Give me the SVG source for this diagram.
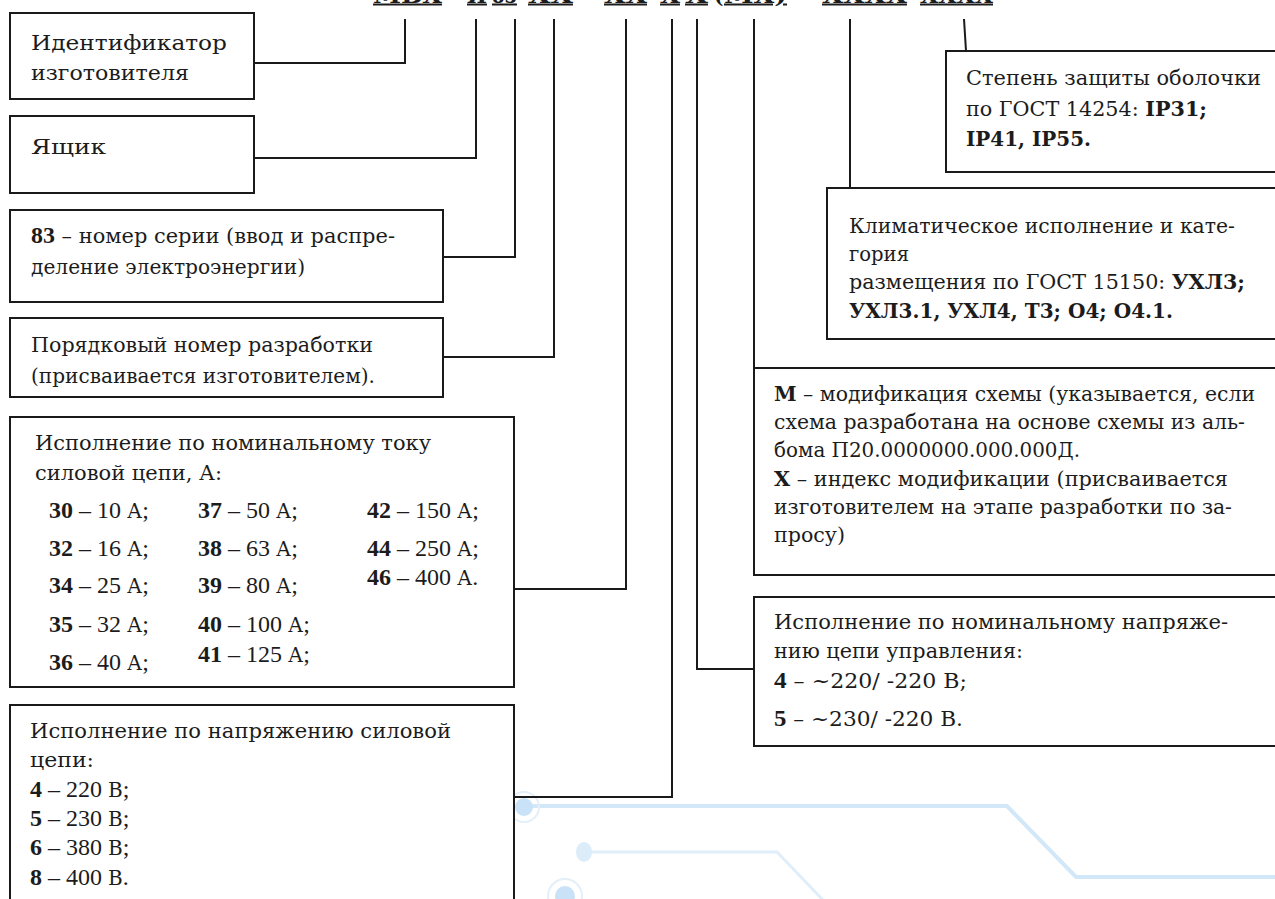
<svg xmlns="http://www.w3.org/2000/svg" width="1275" height="899" viewBox="0 0 1275 899">
<style>
.box{fill:#fff;stroke:#1a1a1a;stroke-width:2}
.t{font-family:"DejaVu Serif",serif;font-size:21px;fill:#1c1c1c}
.n{font-family:"Liberation Serif",serif;font-size:24px;fill:#1c1c1c}
.c{font-family:"DejaVu Serif",serif;font-size:20px}
.b{font-weight:bold}
.nb{font-family:"Liberation Serif",serif;font-weight:bold;font-size:24px}
.hd{font-family:"DejaVu Serif",serif;font-size:20px;font-weight:bold;fill:#1c1c1c}
.u{text-decoration:underline}
.conn path{fill:none;stroke:#1a1a1a;stroke-width:2}
.bg path{fill:none;stroke-linecap:round}
</style>
<rect width="1275" height="899" fill="#fff"/>
<g class="bg" id="background">
<path d="M530 806 H1007 L1076 877 H1280" stroke="#d2e7f8" stroke-width="4"/>
<path d="M588 852 H777 L822 899" stroke="#e0eefa" stroke-width="3"/>
<circle cx="524" cy="807" r="9" fill="#c9e2f7"/>
<circle cx="524" cy="807" r="15" fill="none" stroke="#e3eff9" stroke-width="2"/>
<ellipse cx="584" cy="852" rx="8" ry="10" fill="#dcecf9"/>
<circle cx="565" cy="896" r="10" fill="#c9e2f7"/>
<circle cx="565" cy="896" r="17" fill="none" stroke="#e3eff9" stroke-width="2"/>
</g>
<g id="title">
<text class="hd u" x="373" y="2.5" textLength="69" lengthAdjust="spacingAndGlyphs">МВХ</text>
<text class="hd" x="449" y="2.5">–</text>
<text class="hd u" x="467" y="2.5" textLength="20" lengthAdjust="spacingAndGlyphs">Я</text>
<text class="hd u" x="492" y="2.5" textLength="25" lengthAdjust="spacingAndGlyphs">83</text>
<text class="hd u" x="528" y="2.5" textLength="45" lengthAdjust="spacingAndGlyphs">ХХ</text>
<text class="hd" x="583" y="2.5">–</text>
<text class="hd u" x="604" y="2.5" textLength="43" lengthAdjust="spacingAndGlyphs">ХХ</text>
<text class="hd u" x="660" y="2.5" textLength="20" lengthAdjust="spacingAndGlyphs">Х</text>
<text class="hd u" x="685" y="2.5" textLength="23" lengthAdjust="spacingAndGlyphs">Х</text>
<text class="hd" x="714" y="2.5">(</text>
<text class="hd u" x="724" y="2.5" textLength="63" lengthAdjust="spacingAndGlyphs">МХ)</text>
<text class="hd" x="800" y="2.5">–</text>
<text class="hd u" x="822" y="2.5" textLength="85" lengthAdjust="spacingAndGlyphs">ХХХХ</text>
<text class="hd u" x="920" y="2.5" textLength="73" lengthAdjust="spacingAndGlyphs">ХХХХ</text>
</g>
<g class="conn" id="connectors">
<path d="M254 63 H405 V19"/>
<path d="M254 158 H476 V19"/>
<path d="M443 257 H515 V19"/>
<path d="M443 357 H554 V19"/>
<path d="M514 589 H626 V19"/>
<path d="M514 797 H672 V19"/>
<path d="M754 669 H697 V19"/>
<path d="M754 19 V368"/>
<path d="M850 19 V188"/>
<path d="M964 19 L966 51"/>
</g>
<g id="node-manufacturer">
<rect class="box" x="10" y="13" width="244" height="86"/>
<text class="t" x="31" y="50" textLength="196" lengthAdjust="spacingAndGlyphs">Идентификатор</text>
<text class="t" x="31" y="80" textLength="158" lengthAdjust="spacingAndGlyphs">изготовителя</text>
</g>
<g id="node-box">
<rect class="box" x="10" y="116" width="244" height="77"/>
<text class="t" x="31" y="154" textLength="75" lengthAdjust="spacingAndGlyphs">Ящик</text>
</g>
<g id="node-series">
<rect class="box" x="10" y="210" width="433" height="92"/>
<text class="t" x="31" y="243" textLength="364" lengthAdjust="spacingAndGlyphs"><tspan class="nb">83</tspan> – номер серии (ввод и распре-</text>
<text class="t" x="31" y="274" textLength="274" lengthAdjust="spacingAndGlyphs">деление электроэнергии)</text>
</g>
<g id="node-dev">
<rect class="box" x="10" y="318" width="433" height="79"/>
<text class="t" x="31" y="352" textLength="342" lengthAdjust="spacingAndGlyphs">Порядковый номер разработки</text>
<text class="t" x="31" y="383" textLength="344" lengthAdjust="spacingAndGlyphs">(присваивается изготовителем).</text>
</g>
<g id="node-current">
<rect class="box" x="10" y="417" width="504" height="270"/>
<text class="t" x="35" y="450" textLength="396" lengthAdjust="spacingAndGlyphs">Исполнение по номинальному току</text>
<text class="t" x="35" y="480" textLength="187" lengthAdjust="spacingAndGlyphs">силовой цепи, А:</text>
<text class="n" x="49" y="518"><tspan class="b">30</tspan> – 10 <tspan class="c">А</tspan>;</text>
<text class="n" x="49" y="556"><tspan class="b">32</tspan> – 16 <tspan class="c">А</tspan>;</text>
<text class="n" x="49" y="593"><tspan class="b">34</tspan> – 25 <tspan class="c">А</tspan>;</text>
<text class="n" x="49" y="632"><tspan class="b">35</tspan> – 32 <tspan class="c">А</tspan>;</text>
<text class="n" x="49" y="670"><tspan class="b">36</tspan> – 40 <tspan class="c">А</tspan>;</text>
<text class="n" x="198" y="518"><tspan class="b">37</tspan> – 50 <tspan class="c">А</tspan>;</text>
<text class="n" x="198" y="556"><tspan class="b">38</tspan> – 63 <tspan class="c">А</tspan>;</text>
<text class="n" x="198" y="593"><tspan class="b">39</tspan> – 80 <tspan class="c">А</tspan>;</text>
<text class="n" x="198" y="632"><tspan class="b">40</tspan> – 100 <tspan class="c">А</tspan>;</text>
<text class="n" x="198" y="662"><tspan class="b">41</tspan> – 125 <tspan class="c">А</tspan>;</text>
<text class="n" x="367" y="518"><tspan class="b">42</tspan> – 150 <tspan class="c">А</tspan>;</text>
<text class="n" x="367" y="556"><tspan class="b">44</tspan> – 250 <tspan class="c">А</tspan>;</text>
<text class="n" x="367" y="585"><tspan class="b">46</tspan> – 400 <tspan class="c">А</tspan>.</text>
</g>
<g id="node-voltage">
<rect class="box" x="10" y="705" width="504" height="220"/>
<text class="t" x="30" y="738" textLength="421" lengthAdjust="spacingAndGlyphs">Исполнение по напряжению силовой</text>
<text class="t" x="30" y="767" textLength="64" lengthAdjust="spacingAndGlyphs">цепи:</text>
<text class="n" x="30" y="797"><tspan class="b">4</tspan> – 220 <tspan class="c">В</tspan>;</text>
<text class="n" x="30" y="826"><tspan class="b">5</tspan> – 230 <tspan class="c">В</tspan>;</text>
<text class="n" x="30" y="855"><tspan class="b">6</tspan> – 380 <tspan class="c">В</tspan>;</text>
<text class="n" x="30" y="885"><tspan class="b">8</tspan> – 400 <tspan class="c">В</tspan>.</text>
</g>
<g id="node-ip">
<rect class="box" x="946" y="51" width="340" height="121"/>
<text class="t" x="966" y="85" textLength="295" lengthAdjust="spacingAndGlyphs">Степень защиты оболочки</text>
<text class="t" x="966" y="116" textLength="241" lengthAdjust="spacingAndGlyphs">по ГОСТ 14254: <tspan class="b">IP31;</tspan></text>
<text class="t b" x="966" y="146" textLength="125" lengthAdjust="spacingAndGlyphs">IP41, IP55.</text>
</g>
<g id="node-climate">
<rect class="box" x="827" y="188" width="460" height="151"/>
<text class="t" x="849" y="233" textLength="386" lengthAdjust="spacingAndGlyphs">Климатическое исполнение и кате-</text>
<text class="t" x="849" y="261" textLength="60" lengthAdjust="spacingAndGlyphs">гория</text>
<text class="t" x="849" y="289" textLength="396" lengthAdjust="spacingAndGlyphs">размещения по ГОСТ 15150: <tspan class="b">УХЛ3;</tspan></text>
<text class="t b" x="849" y="318" textLength="324" lengthAdjust="spacingAndGlyphs">УХЛ3.1, УХЛ4, Т3; О4; О4.1.</text>
</g>
<g id="node-modification">
<rect class="box" x="754" y="368" width="533" height="207"/>
<text class="t" x="774" y="401" textLength="481" lengthAdjust="spacingAndGlyphs"><tspan class="b">М</tspan> – модификация схемы (указывается, если</text>
<text class="t" x="774" y="429" textLength="471" lengthAdjust="spacingAndGlyphs">схема разработана на основе схемы из аль-</text>
<text class="t" x="774" y="457" textLength="306" lengthAdjust="spacingAndGlyphs">бома П20.0000000.000.000Д.</text>
<text class="t" x="774" y="486" textLength="454" lengthAdjust="spacingAndGlyphs"><tspan class="b">Х</tspan> – индекс модификации (присваивается</text>
<text class="t" x="774" y="514" textLength="458" lengthAdjust="spacingAndGlyphs">изготовителем на этапе разработки по за-</text>
<text class="t" x="774" y="542" textLength="71" lengthAdjust="spacingAndGlyphs">просу)</text>
</g>
<g id="node-control">
<rect class="box" x="754" y="597" width="533" height="149"/>
<text class="t" x="774" y="629" textLength="454" lengthAdjust="spacingAndGlyphs">Исполнение по номинальному напряже-</text>
<text class="t" x="774" y="658" textLength="249" lengthAdjust="spacingAndGlyphs">нию цепи управления:</text>
<text class="t" x="774" y="688" textLength="193" lengthAdjust="spacingAndGlyphs"><tspan class="nb">4</tspan> – ~220/ -220 В;</text>
<text class="t" x="774" y="726" textLength="189" lengthAdjust="spacingAndGlyphs"><tspan class="nb">5</tspan> – ~230/ -220 В.</text>
</g>
</svg>
